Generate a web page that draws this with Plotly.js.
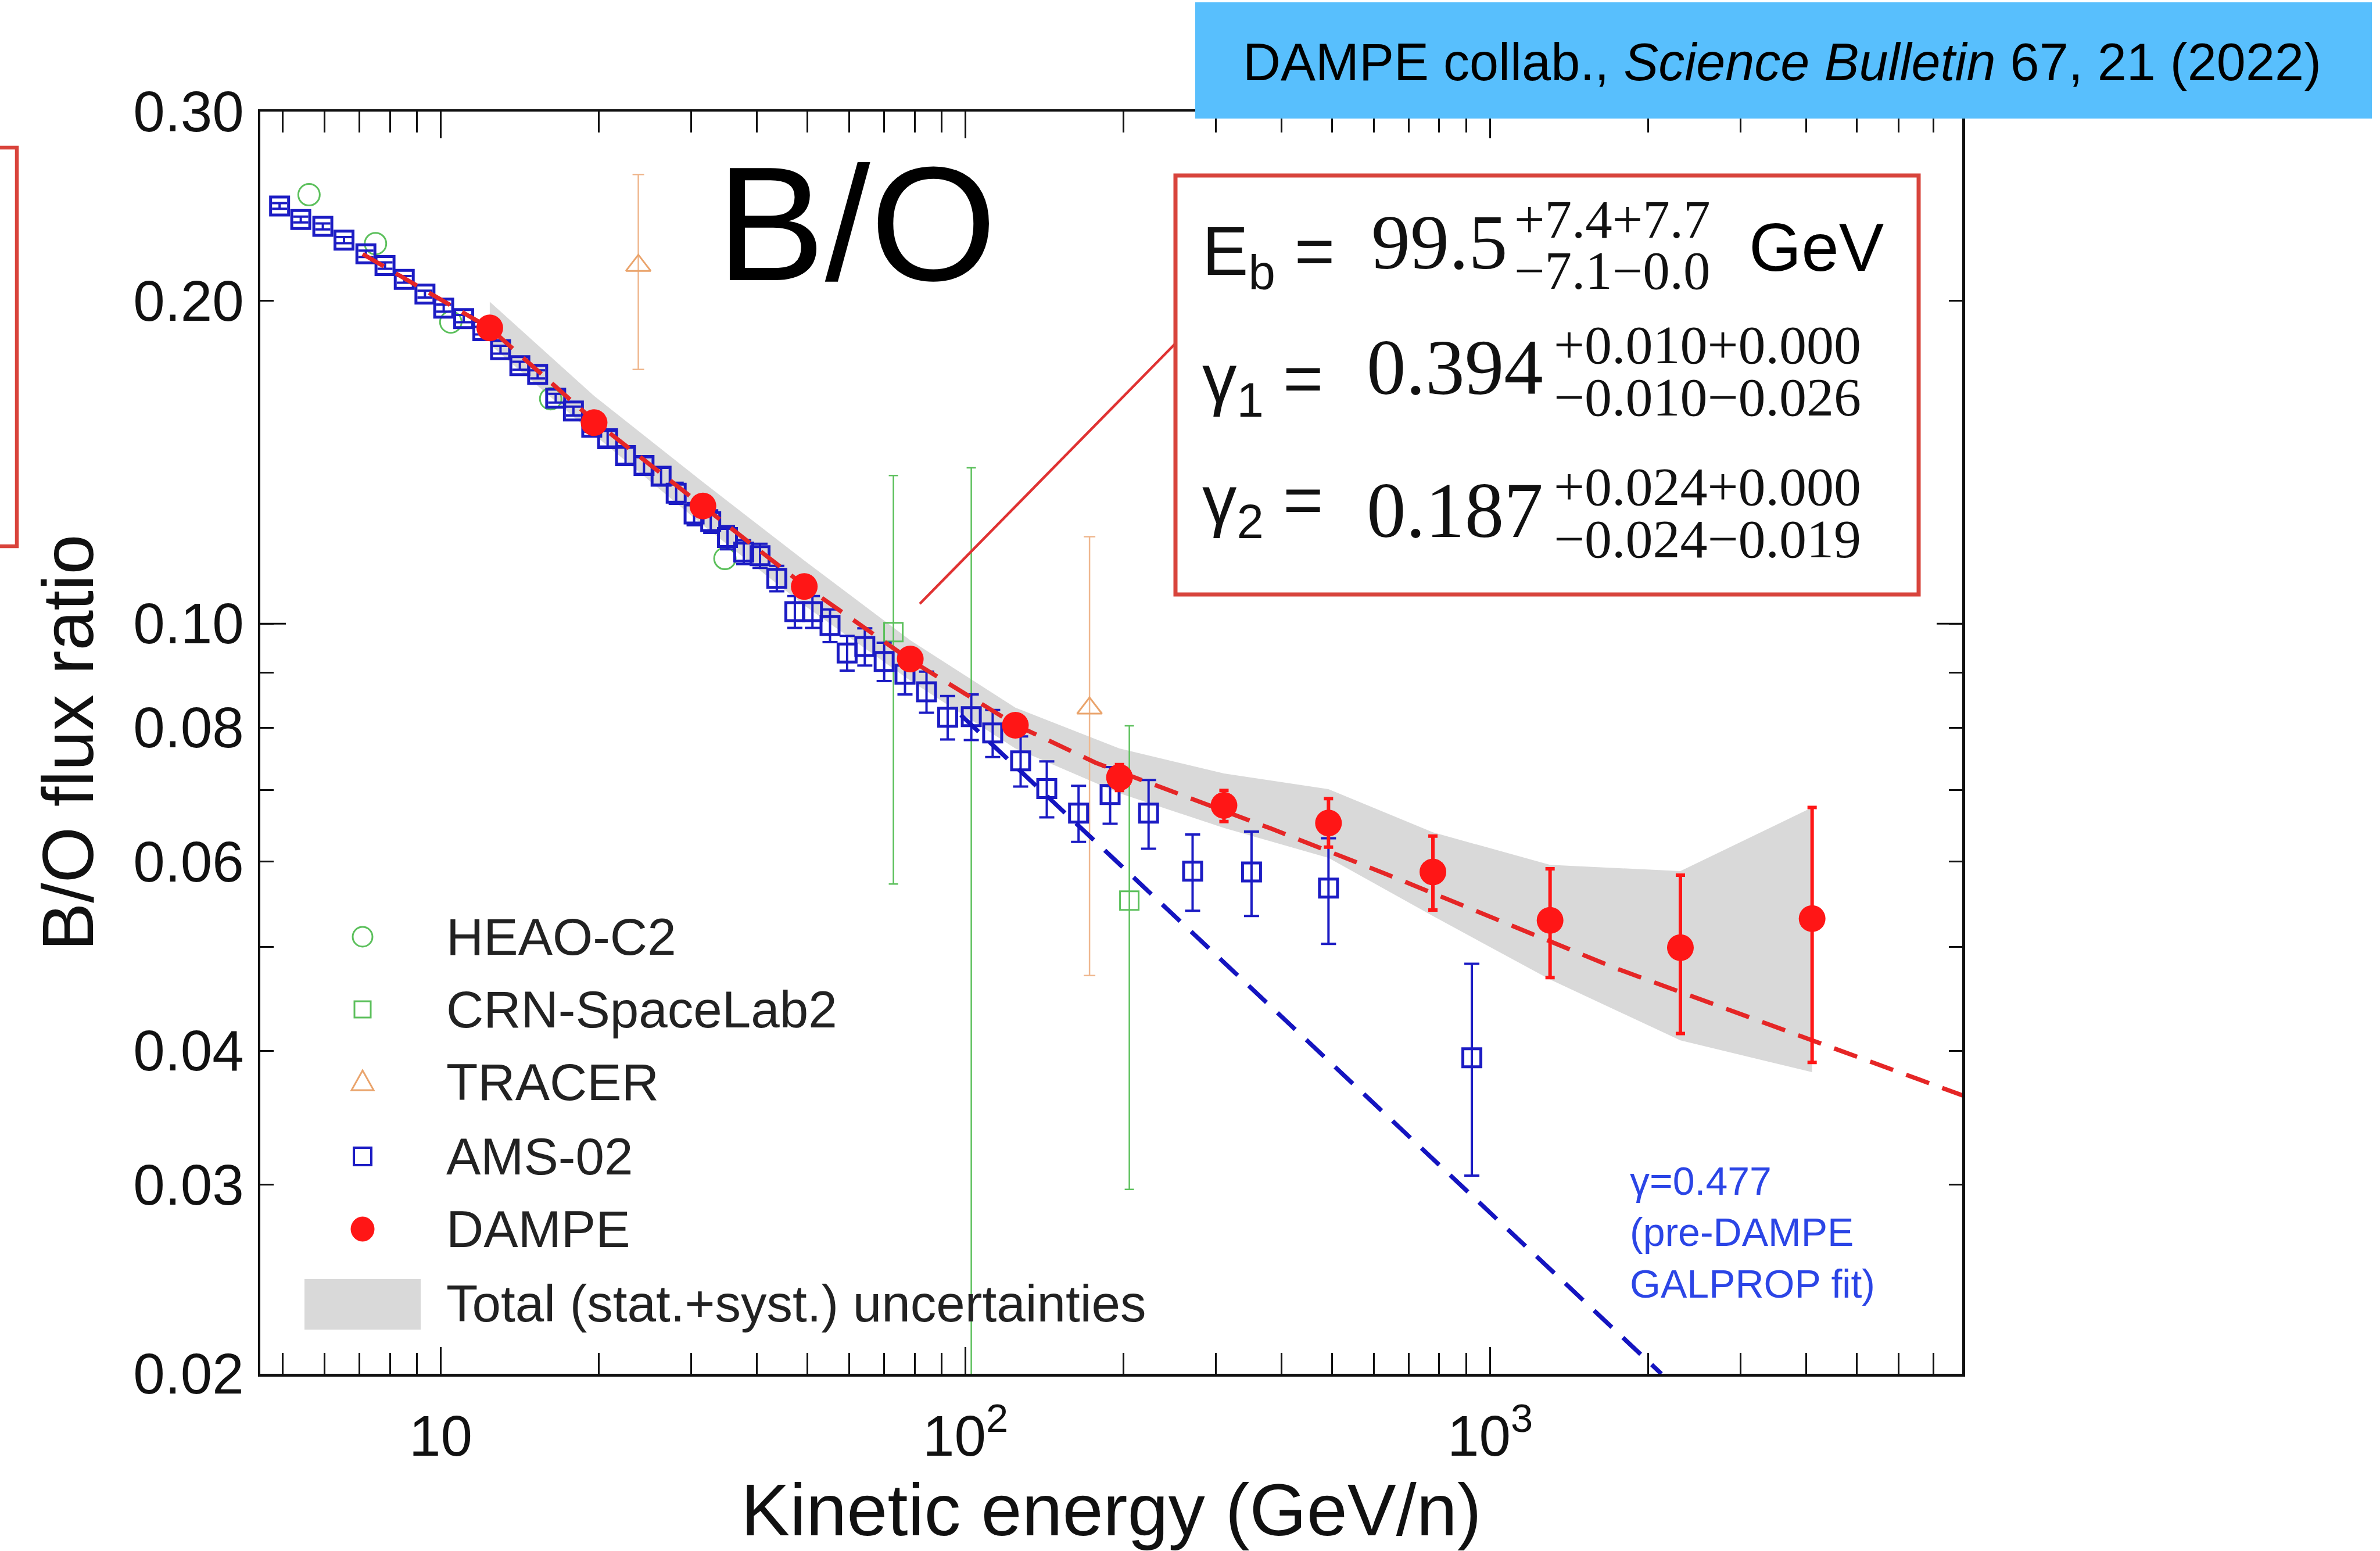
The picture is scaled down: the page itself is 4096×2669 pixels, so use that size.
<!DOCTYPE html>
<html>
<head>
<meta charset="utf-8">
<script src="https://cdn.plot.ly/plotly-3.0.1.min.js"></script>
<style>
  html, body { margin: 0; padding: 0; background: #ffffff; }
  #chart { width: 4096px; height: 2669px; }
</style>
</head>
<body>
<div id="chart"></div>
<script>
// ---- B/O flux ratio measurements (kinetic energy in GeV/n) ----
const amsE = [4.93, 5.41, 5.96, 6.54, 7.20, 7.83, 8.52, 9.33, 10.13, 11.06, 12.03, 13.0,
  14.15, 15.3, 16.56, 17.9, 19.4, 20.8, 22.5, 24.4, 26.3, 28.1, 30.4, 32.7, 35.2, 37.8,
  40.6, 43.7, 47.3, 51.1, 55.2, 59.5, 64.3, 70.0, 76.7, 84.3, 92.5, 102.6, 112.7, 127.4,
  142.9, 164.3, 188.7, 223.4, 271, 351, 492, 923];
const amsR = [0.245, 0.238, 0.2345, 0.2277, 0.2211, 0.2156, 0.2093, 0.2028, 0.1968, 0.1924,
  0.1875, 0.180, 0.1739, 0.1707, 0.1622, 0.1578, 0.1524, 0.1487, 0.1434, 0.1404, 0.1372,
  0.1323, 0.1265, 0.1245, 0.1203, 0.1166, 0.1157, 0.1102, 0.1026, 0.1026, 0.0996, 0.0939,
  0.0952, 0.0922, 0.0897, 0.0864, 0.0818, 0.0819, 0.0791, 0.0745, 0.0702, 0.0666, 0.0693,
  0.0666, 0.0588, 0.0587, 0.0567, 0.0394];
const amsErr = [0.0015, 0.0015, 0.0015, 0.0015, 0.0015, 0.0015, 0.0015, 0.0015, 0.0015,
  0.0015, 0.0015, 0.0015, 0.0015, 0.0015, 0.0015, 0.0015, 0.0015, 0.0025, 0.0025, 0.0025,
  0.0025, 0.003, 0.003, 0.003, 0.003, 0.003, 0.003, 0.003, 0.0035, 0.0035, 0.0035, 0.0035,
  0.0038, 0.0038, 0.0038, 0.0038, 0.0038, 0.004, 0.004, 0.004, 0.0042, 0.004, 0.0042,
  0.0049, 0.0048, 0.0053, 0.0064, 0.0088];

const dampeE = [12.4, 19.6, 31.6, 49.3, 78.5, 124.5, 196.6, 311, 492, 778, 1301, 2305, 4109];
const dampeR = [0.1886, 0.1539, 0.1287, 0.1083, 0.0927, 0.0804, 0.0719, 0.0677, 0.0652,
  0.0587, 0.0529, 0.0499, 0.0531];
const dampeErrUp = [0.001, 0.001, 0.001, 0.0012, 0.0012, 0.0015, 0.002, 0.0022, 0.0035,
  0.0047, 0.0062, 0.0084, 0.0143];
const dampeErrDown = [0.001, 0.001, 0.001, 0.0012, 0.0012, 0.0015, 0.002, 0.0023, 0.0033,
  0.0046, 0.0061, 0.0084, 0.0141];

// total (stat.+syst.) uncertainty band around the DAMPE points
const bandE = [12.4, 19.6, 31.6, 49.3, 78.5, 124.5, 196.6, 311, 492, 778, 1301, 2305, 4109];
const bandHigh = [0.1995, 0.163, 0.1355, 0.1145, 0.0965, 0.0835, 0.0765, 0.0725, 0.0701,
  0.0639, 0.0596, 0.0588, 0.0674];
const bandLow = [0.182, 0.150, 0.1235, 0.104, 0.0885, 0.0765, 0.0695, 0.0645, 0.0605,
  0.0534, 0.0466, 0.0409, 0.0382];

const heaoE = [5.61, 7.51, 10.45, 16.2, 34.8];
const heaoR = [0.251, 0.226, 0.191, 0.162, 0.115];

const crnE = [72.9, 102.6, 205.3];
const crnR = [0.0982, 0.0819, 0.0552];
const crnErrUp = [0.0392, 0.0578, 0.0251];
const crnErrDown = [0.041, 0.0669, 0.0255];

const tracerE = [23.8, 172.4];
const tracerR = [0.2156, 0.0834];
const tracerErrUp = [0.0465, 0.0371];
const tracerErrDown = [0.0431, 0.0364];

// broken power-law fit (red) and single power-law GALPROP line (blue)
const fitE = [7.1, 12.4, 19.6, 31.6, 49.3, 78.5, 124.5, 177, 273, 383, 630, 1724, 4109, 8000];
const fitR = [0.221, 0.1885, 0.1545, 0.1285, 0.1085, 0.0925, 0.0805, 0.0742, 0.0686, 0.0644,
  0.0585, 0.0478, 0.0409, 0.0363];
const galpropE = [98, 2120];
const galpropR = [0.0822, 0.0200];

// axis ticks
const xTickVals = [10, 100, 1000];
const xTickText = ['10', '10<sup>2</sup>', '10<sup>3</sup>'];
const xMinorVals = [5, 6, 7, 8, 9, 20, 30, 40, 50, 60, 70, 80, 90, 200, 300, 400, 500, 600,
  700, 800, 900, 2000, 3000, 4000, 5000, 6000, 7000];
const yTickVals = [0.02, 0.03, 0.04, 0.06, 0.08, 0.1, 0.2, 0.3];
const yTickText = ['0.02', '0.03', '0.04', '0.06', '0.08', '0.10', '0.20', '0.30'];
const yMinorVals = [0.05, 0.07, 0.09];

// legend entries
const legendNames = ['HEAO-C2', 'CRN-SpaceLab2', 'TRACER', 'AMS-02', 'DAMPE',
  'Total (stat.+syst.) uncertainties'];

// ---- layout geometry (pixels of the 4096 x 2669 page) ----
const W = 4096, H = 2669;
const PL = 448, PR = 3377, PT = 192, PB = 2364;
const PW = PR - PL, PH = PB - PT;
const px = v => (v - PL) / PW;      // page x -> paper x
const py = v => (PB - v) / PH;      // page y -> paper y

const SANS = 'Liberation Sans, Arial, sans-serif';
const SERIF = 'Liberation Serif, Times New Roman, serif';

const cGreen = '#5cc05c', cTracer = '#eaa46c', cBlue = '#1c1cc4', cRed = '#ff1616';

const traces = [
  { x: bandE, y: bandLow, mode: 'lines', line: { width: 0, color: '#d9d9d9' },
    hoverinfo: 'skip', showlegend: false },
  { x: bandE, y: bandHigh, mode: 'lines', fill: 'tonexty', fillcolor: '#d9d9d9',
    line: { width: 0, color: '#d9d9d9' }, name: legendNames[5], showlegend: false },
  { x: heaoE, y: heaoR, mode: 'markers', name: legendNames[0], showlegend: false,
    marker: { symbol: 'circle-open', size: 37, color: cGreen, line: { width: 3, color: cGreen } } },
  { x: crnE, y: crnR, mode: 'markers', name: legendNames[1], showlegend: false,
    marker: { symbol: 'square-open', size: 32, color: cGreen, line: { width: 3, color: cGreen } },
    error_y: { type: 'data', symmetric: false, array: crnErrUp, arrayminus: crnErrDown,
      color: cGreen, thickness: 2.5, width: 8 } },
  { x: tracerE, y: tracerR, mode: 'markers', name: legendNames[2], showlegend: false,
    marker: { symbol: 'triangle-up-open', size: 37, color: cTracer, line: { width: 3, color: cTracer } },
    error_y: { type: 'data', symmetric: false, array: tracerErrUp, arrayminus: tracerErrDown,
      color: '#efb78e', thickness: 2.5, width: 10 } },
  { x: amsE, y: amsR, mode: 'markers', name: legendNames[3], showlegend: false,
    marker: { symbol: 'square-open', size: 31, color: cBlue, line: { width: 5, color: cBlue } },
    error_y: { type: 'data', array: amsErr, color: cBlue, thickness: 4, width: 13 } },
  { x: fitE, y: fitR, mode: 'lines', name: 'broken power-law fit', showlegend: false,
    line: { color: '#e52626', width: 7.5, dash: '42px,24px' } },
  { x: galpropE, y: galpropR, mode: 'lines', name: 'GALPROP', showlegend: false,
    line: { color: '#1414c0', width: 7.5, dash: '42px,26px' } },
  { x: dampeE, y: dampeR, mode: 'markers', name: legendNames[4], showlegend: false,
    marker: { symbol: 'circle', size: 46, color: cRed },
    error_y: { type: 'data', symmetric: false, array: dampeErrUp, arrayminus: dampeErrDown,
      color: cRed, thickness: 6, width: 8 } }
];

// ---- shapes: frame decorations, parameter box, legend glyphs ----
const shapes = [];
// long tick at 0.10 on both sides
shapes.push({ type: 'line', xref: 'paper', yref: 'y', x0: 0, x1: 44 / PW, y0: 0.1, y1: 0.1,
  line: { color: '#111', width: 3 }, layer: 'above' });
shapes.push({ type: 'line', xref: 'paper', yref: 'y', x0: 1 - 44 / PW, x1: 1, y0: 0.1, y1: 0.1,
  line: { color: '#111', width: 3 }, layer: 'above' });
// red frame at the left edge of the page
shapes.push({ type: 'rect', xref: 'paper', yref: 'paper', x0: px(-20), x1: px(29),
  y0: py(940), y1: py(254), line: { color: '#d9433b', width: 6.5 }, layer: 'above' });
// citation banner
shapes.push({ type: 'rect', xref: 'paper', yref: 'paper', x0: px(2057), x1: px(4082),
  y0: py(204), y1: py(4), fillcolor: '#58bffd', line: { width: 0 }, layer: 'above' });
// parameter box and its pointer
shapes.push({ type: 'line', xref: 'paper', yref: 'paper', x0: px(1583), y0: py(1039),
  x1: px(2023), y1: py(591), line: { color: '#e03232', width: 4.5 }, layer: 'above' });
shapes.push({ type: 'rect', xref: 'paper', yref: 'paper', x0: px(2023), x1: px(3302),
  y0: py(1023), y1: py(302), fillcolor: '#ffffff', line: { color: '#d8443c', width: 7 },
  layer: 'above' });

// legend glyphs
const legX = px(624);
const legRowsPx = [1612, 1737, 1862, 1990, 2115, 2243];
const legRows = legRowsPx.map(py);
function pixelShape(type, yRow, extra) {
  return Object.assign({ type: type, xref: 'paper', yref: 'paper', xsizemode: 'pixel',
    ysizemode: 'pixel', xanchor: legX, yanchor: yRow, layer: 'above' }, extra);
}
shapes.push(pixelShape('circle', legRows[0], { x0: -17, x1: 17, y0: -17, y1: 17,
  line: { color: cGreen, width: 3 } }));
shapes.push(pixelShape('rect', legRows[1], { x0: -14, x1: 14, y0: -14, y1: 14,
  line: { color: cGreen, width: 3 } }));
shapes.push(pixelShape('path', legRows[2], { path: 'M -19 -14 L 19 -14 L 0 20 Z',
  line: { color: cTracer, width: 3 } }));
shapes.push(pixelShape('rect', legRows[3], { x0: -15, x1: 15, y0: -15, y1: 15,
  line: { color: cBlue, width: 4 } }));
shapes.push(pixelShape('circle', legRows[4], { x0: -20, x1: 20, y0: -21, y1: 21,
  fillcolor: cRed, line: { color: cRed, width: 1 } }));
shapes.push({ type: 'rect', xref: 'paper', yref: 'paper', x0: px(524), x1: px(724),
  y0: py(2288), y1: py(2201), fillcolor: '#d9d9d9', line: { width: 0 }, layer: 'above' });

// ---- annotations ----
const ann = [];
function note(text, x, y, size, family, extra) {
  ann.push(Object.assign({ text: text, xref: 'paper', yref: 'paper', x: px(x), y: py(y),
    xanchor: 'left', yanchor: 'middle', showarrow: false,
    font: { size: size, family: family, color: '#111' } }, extra || {}));
}
legendNames.forEach((n, i) => note(n, 766, legRowsPx[i], 89, SANS,
  { font: { size: 89, family: SANS, color: '#222' } }));

note('B/O', 1474, 385, 280, SANS, { xanchor: 'center', font: { size: 280, family: SANS, color: '#000' } });
note('DAMPE collab., <i>Science Bulletin</i> 67, 21 (2022)', 3067, 107, 90, SANS,
  { xanchor: 'center', font: { size: 90, family: SANS, color: '#000' } });

// fit parameters
note('E<sub>b</sub> =', 2067, 440, 119, SANS);
note('99.5', 2358, 417, 134, SERIF);
note('+7.4+7.7', 2604, 377, 93, SERIF);
note('\u22127.1\u22120.0', 2604, 465, 93, SERIF);
note('GeV', 3008, 426, 116, SANS, { font: { size: 116, family: SANS, color: '#000' } });
note('\u03b3<sub>1</sub> =', 2067, 659, 119, SANS);
note('0.394', 2350, 633, 135, SERIF);
note('+0.010+0.000', 2672, 593, 94, SERIF);
note('\u22120.010\u22120.026', 2672, 683, 94, SERIF);
note('\u03b3<sub>2</sub> =', 2067, 868, 119, SANS);
note('0.187', 2350, 878, 135, SERIF);
note('+0.024+0.000', 2672, 837, 94, SERIF);
note('\u22120.024\u22120.019', 2672, 927, 94, SERIF);

note('\u03b3=0.477<br>(pre-DAMPE<br>GALPROP fit)', 2803, 2120, 68, SANS,
  { align: 'left', font: { size: 68, family: SANS, color: '#2b45e6' } });

const axisCommon = {
  type: 'log', showgrid: false, zeroline: false, showline: true, linecolor: '#111',
  linewidth: 4.5, mirror: 'allticks', ticks: 'inside', tickcolor: '#111', tickwidth: 3,
  tickmode: 'array', tickfont: { size: 98, family: SANS, color: '#111' }
};

const layout = {
  width: W, height: H,
  margin: { l: PL, r: W - PR, t: PT, b: H - PB, pad: 0 },
  paper_bgcolor: '#ffffff', plot_bgcolor: '#ffffff',
  showlegend: false,
  xaxis: Object.assign({}, axisCommon, {
    range: [Math.log10(4.53), Math.log10(7940)],
    tickvals: xTickVals, ticktext: xTickText, ticklen: 46, ticklabelstandoff: 19,
    minor: { tickmode: 'array', tickvals: xMinorVals, ticks: 'inside', ticklen: 36,
      tickwidth: 3, tickcolor: '#111', showgrid: false },
    title: { text: 'Kinetic energy (GeV/n)', font: { size: 126, family: SANS, color: '#111' }, standoff: 36 }
  }),
  yaxis: Object.assign({}, axisCommon, {
    range: [Math.log10(0.02), Math.log10(0.3)],
    tickvals: yTickVals, ticktext: yTickText, ticklen: 23, ticklabelstandoff: 4,
    minor: { tickmode: 'array', tickvals: yMinorVals, ticks: 'inside', ticklen: 23,
      tickwidth: 3, tickcolor: '#111', showgrid: false },
    title: { text: 'B/O flux ratio', font: { size: 124, family: SANS, color: '#111' }, standoff: 28 }
  }),
  shapes: shapes,
  annotations: ann
};

Plotly.newPlot('chart', traces, layout, { displayModeBar: false, staticPlot: true });
</script>
</body>
</html>
